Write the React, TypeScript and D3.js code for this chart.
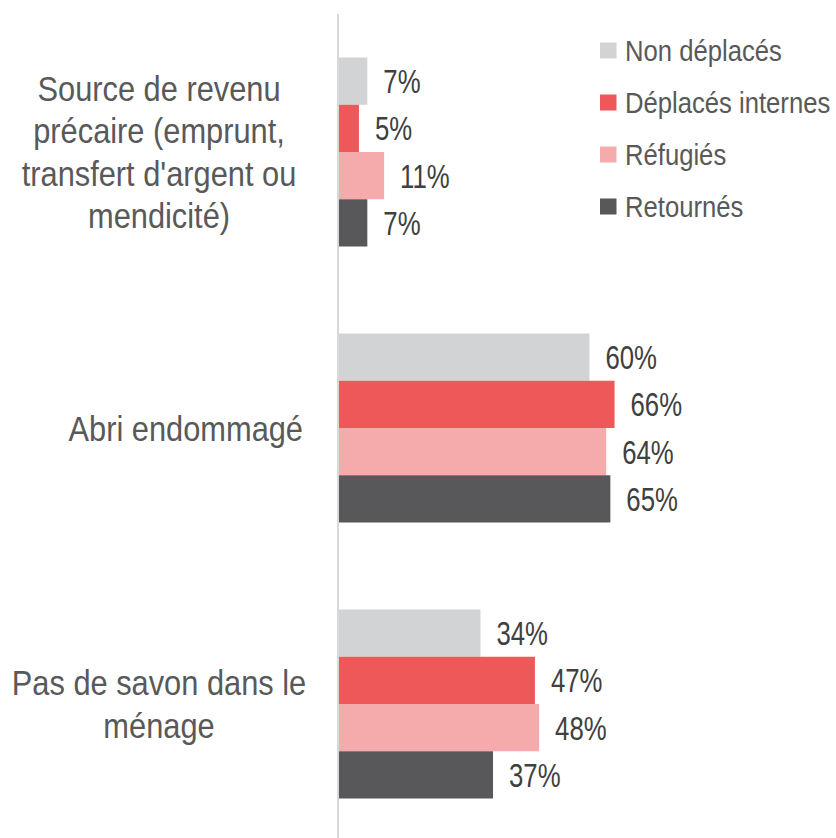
import React from "react";
import * as d3 from "d3";

const categories = [
  "Source de revenu précaire (emprunt, transfert d'argent ou mendicité)",
  "Abri endommagé",
  "Pas de savon dans le ménage",
];
const categoryLines = [
  ["Source de revenu", "précaire (emprunt,", "transfert d'argent ou", "mendicité)"],
  ["Abri endommagé"],
  ["Pas de savon dans le", "ménage"],
];
const seriesNames = ["Non déplacés", "Déplacés internes", "Réfugiés", "Retournés"];
const seriesColors = ["#d1d3d4", "#ee5859", "#f5aaab", "#58585a"];
const nonDeplaces = [7, 60, 34];
const deplacesInternes = [5, 66, 47];
const refugies = [11, 64, 48];
const retournes = [7, 65, 37];
const seriesValues = [nonDeplaces, deplacesInternes, refugies, retournes];

const W = 836;
const H = 838;
const FONT = "'Liberation Sans', Arial, sans-serif";

const VAL_FS = 33;
const VAL_SX = 0.78;
const LEG_FS = 29.5;
const LEG_SX = 0.87;
const CAT_FS = 35;
const CAT_SX = 0.88;

export default function App() {
  const axisX = 338;
  const x = d3.scaleLinear().domain([0, 100]).range([axisX, axisX + 419]);
  const y = d3.scaleBand<string>().domain(categories).range([14, 842]).paddingInner(0).paddingOuter(0);
  const groupH = y.bandwidth() * (189 / 276);
  const inner = d3.scaleBand<string>().domain(seriesNames).range([0, groupH]);

  const labelRight = 303;
  const labelCenter = 159;
  const lineH = 42.5;

  return (
    <svg width={W} height={H} style={{ position: "absolute", left: 0, top: 0, background: "#fff" }} fontFamily={FONT}>
      {categories.map((c, ci) => {
        const g0 = (y(c) as number) + (y.bandwidth() - groupH) / 2;
        return (
          <g key={c}>
            {seriesNames.map((s, si) => {
              const v = seriesValues[si][ci];
              const by = g0 + (inner(s) as number);
              return (
                <g key={s}>
                  <rect x={x(0)} y={by} width={x(v) - x(0)} height={inner.bandwidth()} fill={seriesColors[si]} />
                  <text
                    transform={`translate(${x(v) + 16},${by + inner.bandwidth() / 2}) scale(${VAL_SX},1)`}
                    dy="0.36em"
                    fontSize={VAL_FS}
                    fill="#404040"
                  >
                    {v}%
                  </text>
                </g>
              );
            })}
          </g>
        );
      })}
      <line x1={axisX} x2={axisX} y1={14} y2={842} stroke="#d9d9d9" strokeWidth={2} />
      {categories.map((c, ci) => {
        const lines = categoryLines[ci];
        const cy = (y(c) as number) + y.bandwidth() / 2;
        const single = lines.length === 1;
        const ax = single ? labelRight : labelCenter;
        return (
          <g key={c} transform={`translate(${ax},0) scale(${CAT_SX},1)`}>
            <text fontSize={CAT_FS} fill="#595959" textAnchor={single ? "end" : "middle"}>
              {lines.map((l, li) => (
                <tspan key={li} x={0} y={cy + (li - (lines.length - 1) / 2) * lineH} dy="0.36em">
                  {l}
                </tspan>
              ))}
            </text>
          </g>
        );
      })}
      {seriesNames.map((s, si) => {
        const cy = 50.5 + si * 52;
        return (
          <g key={s}>
            <rect x={600} y={cy - 8} width={16.5} height={16} fill={seriesColors[si]} />
            <text transform={`translate(625,${cy}) scale(${LEG_SX},1)`} dy="0.36em" fontSize={LEG_FS} fill="#595959">
              {s}
            </text>
          </g>
        );
      })}
    </svg>
  );
}
